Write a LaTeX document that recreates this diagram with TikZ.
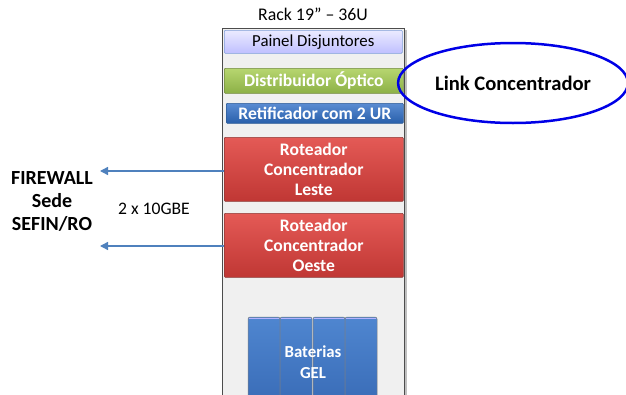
\documentclass[tikz,border=0pt]{standalone}
\usepackage{fontspec}
\setmainfont{Carlito}
\usetikzlibrary{shapes.geometric,arrows.meta,shadows}
\definecolor{rackbg}{HTML}{F0F0F0}
\definecolor{arrowblue}{HTML}{4F81BD}
\definecolor{batttop}{HTML}{4F86D0}
\definecolor{battbot}{HTML}{3A6DB8}
\definecolor{painelbd}{HTML}{7F9FD8}
\definecolor{greenbd}{HTML}{71893F}
\definecolor{bluebd}{HTML}{2C5A95}
\definecolor{redbd}{HTML}{8C3836}
\tikzset{
  unitbox/.style={draw=#1, line width=0.6pt, rounded corners=1pt, inner sep=0pt, anchor=north west},
  whitetxt/.style={text=white, font=\bfseries\fontsize{17.6}{20}\selectfont, align=center},
  link/.style={draw=arrowblue, line width=1.4pt, -{Triangle[length=8pt,width=8pt]}},
  battcol/.style={draw=black!50, line width=0.5pt, rounded corners=2pt, top color=batttop, bottom color=battbot},
}
\begin{document}
\begin{tikzpicture}[x=1pt,y=-1pt]
\useasboundingbox (0,0) rectangle (626,394);
\clip (0,0) rectangle (626,394);
% rack
\fill[black!25] (224,30) rectangle (407,400);
\draw[fill=rackbg, draw=black!70, line width=0.8pt] (222,28) rectangle (404,400);
\node[font=\fontsize{17.8}{20}\selectfont] (title) at (313,14) {Rack 19” – 36U};
% units
\node[unitbox=painelbd, top color=blue!8, bottom color=blue!25, minimum width=178pt, minimum height=23pt, font=\fontsize{16.8}{18}\selectfont] (painel) at (224,30) {Painel Disjuntores};
\node[unitbox=greenbd, top color={rgb,255:red,183;green,214;blue,112}, bottom color={rgb,255:red,140;green,176;blue,70}, minimum width=179pt, minimum height=25pt, whitetxt] (distr) at (224,68) {Distribuidor Óptico};
\node[unitbox=bluebd, top color={rgb,255:red,90;green,140;blue,210}, bottom color={rgb,255:red,40;green,95;blue,170}, minimum width=177pt, minimum height=20pt, whitetxt] (retif) at (226,103) {Retificador com 2 UR};
\node[unitbox=redbd, top color={rgb,255:red,228;green,90;blue,86}, bottom color={rgb,255:red,192;green,55;blue,52}, minimum width=179pt, minimum height=64pt, whitetxt] (leste) at (224,137) {Roteador\\Concentrador\\Leste};
\node[unitbox=redbd, top color={rgb,255:red,228;green,90;blue,86}, bottom color={rgb,255:red,192;green,55;blue,52}, minimum width=179pt, minimum height=64pt, whitetxt] (oeste) at (224,213) {Roteador\\Concentrador\\Oeste};
% batteries
\foreach \x in {248,280,313,345} {
  \draw[battcol] (\x,400) -- (\x,317) -- (\x+32,317) -- (\x+32,400);
  \draw[white!70!blue, line width=0.8pt] (\x+1,318.5) -- (\x+31,318.5);
}
\node[whitetxt, font=\bfseries\fontsize{16.8}{21}\selectfont] (batt) at (313,362) {Baterias\\GEL};
% link ellipse
\node[ellipse, draw={rgb,255:red,0;green,0;blue,230}, line width=2.5pt, minimum width=219pt, minimum height=80pt, font=\bfseries\fontsize{20.6}{22}\selectfont] (linkc) at (513,83) {Link Concentrador};
% firewall
\node[font=\bfseries\fontsize{20}{23}\selectfont, align=center] (fw) at (52,201) {FIREWALL\\Sede\\SEFIN/RO};
\node[font=\fontsize{17.6}{20}\selectfont] (gbe) at (154,209) {2 x 10GBE};
\coordinate (fwa) at (100,171);
\coordinate (fwb) at (100,246);
\draw[link] (leste.west |- fwa) -- (fwa);
\draw[link] (oeste.west |- fwb) -- (fwb);
\end{tikzpicture}
\end{document}
